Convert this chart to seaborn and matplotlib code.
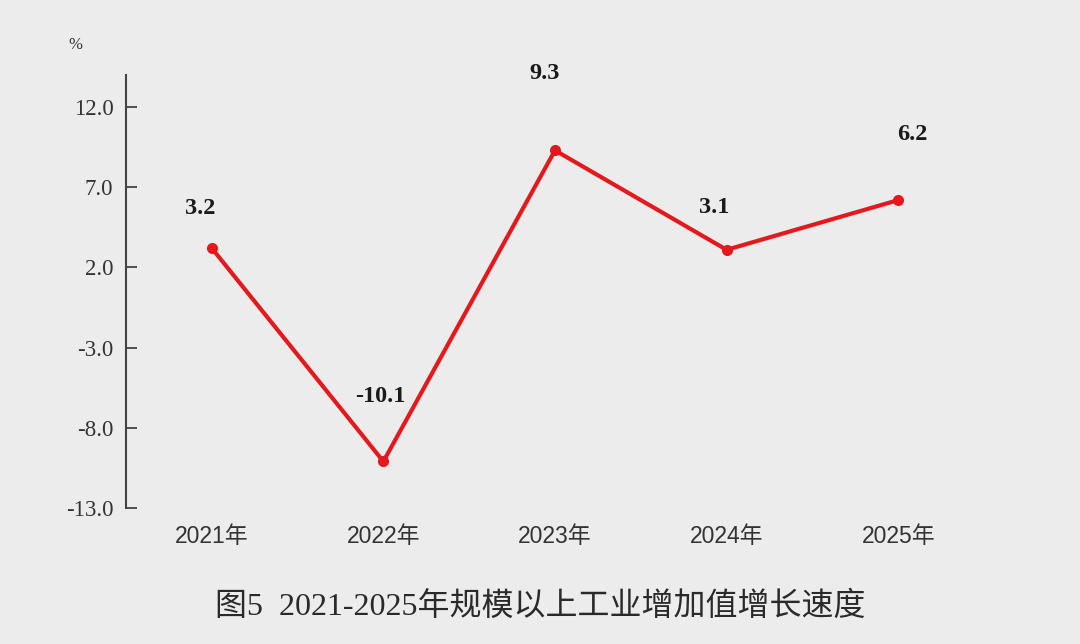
import matplotlib
matplotlib.use("Agg")
import matplotlib.pyplot as plt
import seaborn as sns
import pandas as pd

years = ["2021年", "2022年", "2023年", "2024年", "2025年"]
growth = [3.2, -10.1, 9.3, 3.1, 6.2]
yticks = [-13.0, -8.0, -3.0, 2.0, 7.0, 12.0]
title = "图5  2021-2025年规模以上工业增加值增长速度"

# label offsets above each point (pixels)
label_dy = [40, 65, 77, 42, 66]
label_dx = [-12, -3, -10, -12, 14]

bg = "#ececec"
sns.set_style("white", {"axes.facecolor": bg, "figure.facecolor": bg})
serif = ["Liberation Serif", "Noto Sans CJK SC"]
sans = ["Liberation Sans", "Noto Sans CJK SC"]
plt.rcParams["font.family"] = sans

df = pd.DataFrame({"year": years, "growth": growth})

fig = plt.figure(figsize=(10.8, 6.44), dpi=100)
ax = fig.add_axes([126 / 1080, 1 - 508 / 644, (984 - 126) / 1080, (508 - 75) / 644])

sns.lineplot(data=df, x="year", y="growth", ax=ax, color="#e3191d", linewidth=3,
             marker="o", markersize=8, markeredgewidth=0, sort=False)

for i, v in enumerate(growth):
    ax.annotate(f"{v:.1f}", (i, v), xytext=(label_dx[i] * 0.72, label_dy[i] * 0.72),
                textcoords="offset points", ha="center", va="center",
                fontsize=17.5, fontweight="bold", family=serif, color="#1a1a1a")

ax.set_xlim(-0.5, 4.5)
ax.set_ylim(-13, 14)
ax.set_yticks(yticks)
ax.set_yticklabels([f"{t:.1f}" for t in yticks], family=serif, fontsize=16.5, color="#333333")
ax.set_xlabel("")
ax.set_ylabel("")
ax.tick_params(axis="y", left=True, direction="in", length=8, width=1.3, color="#444444", pad=9)
ax.tick_params(axis="x", bottom=False, length=0, pad=12, labelsize=16.5, labelcolor="#333333")
for s in ["top", "right", "bottom"]:
    ax.spines[s].set_visible(False)
ax.spines["left"].set_color("#444444")
ax.spines["left"].set_linewidth(1.5)

fig.text(75 / 1080, 1 - 45 / 644, "%", family=serif, fontsize=12, color="#333333",
         ha="center", va="center")
fig.text(540 / 1080, 1 - 607 / 644, title, family=serif, fontsize=23, color="#2a2a2a",
         ha="center", va="center")

fig.savefig("out.png", dpi=100, facecolor=bg)
